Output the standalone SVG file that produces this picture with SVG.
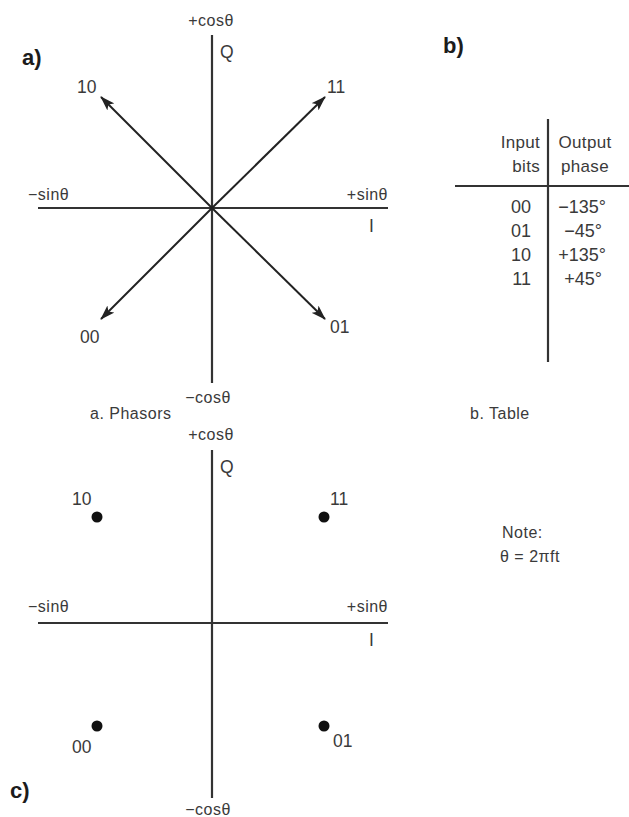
<svg xmlns="http://www.w3.org/2000/svg" width="629" height="817" viewBox="0 0 629 817">
<defs>
<style>
text{font-family:"Liberation Sans","DejaVu Sans",sans-serif;fill:#3a3a3a}
.s{font-size:16px;letter-spacing:0.5px}
.t{font-size:17px;letter-spacing:0.3px}
.m{font-size:17.5px}
.r{font-size:18px}
.h{font-size:22px;font-weight:bold;fill:#1c1c1c}
.ax{stroke:#333;stroke-width:2.2;fill:none}
.ar{stroke:#222;stroke-width:2;fill:none}
.mid{text-anchor:middle}
.end{text-anchor:end}
</style>
<marker id="ah" markerWidth="15" markerHeight="11" refX="14" refY="5.5" orient="auto" markerUnits="userSpaceOnUse">
<path d="M0,0.5 L15,5.5 L0,10.5 L3.5,5.5 z" fill="#222"/>
</marker>
</defs>
<rect width="629" height="817" fill="#fff"/>

<g id="phasors-axes">
<line class="ax" x1="212" y1="35" x2="212" y2="383"/>
<line class="ax" x1="38" y1="208" x2="388" y2="208"/>
<text class="s mid" x="211" y="26">+cosθ</text>
<text class="m" x="220" y="58">Q</text>
<text class="h" x="22" y="65">a)</text>
<text class="s" x="28" y="200">−sinθ</text>
<text class="s end" x="388" y="200">+sinθ</text>
<text class="m" x="369" y="232">I</text>
<text class="s mid" x="208" y="403">−cosθ</text>
<text class="s" x="90" y="419">a. Phasors</text>
</g>

<g id="connectors">
<line class="ar" x1="212" y1="208" x2="101" y2="97" marker-end="url(#ah)"/>
<line class="ar" x1="212" y1="208" x2="325" y2="97" marker-end="url(#ah)"/>
<line class="ar" x1="212" y1="208" x2="101" y2="319" marker-end="url(#ah)"/>
<line class="ar" x1="212" y1="208" x2="325" y2="319" marker-end="url(#ah)"/>
</g>

<g id="phasor-10"><text class="m" x="77" y="93">10</text></g>
<g id="phasor-11"><text class="m" x="327" y="93">11</text></g>
<g id="phasor-00"><text class="m" x="80" y="343">00</text></g>
<g id="phasor-01"><text class="m" x="330" y="333">01</text></g>

<g id="table">
<text class="h" x="443" y="53">b)</text>
<line class="ax" x1="548" y1="119" x2="548" y2="362"/>
<line class="ax" x1="455" y1="186" x2="629" y2="186" stroke-width="2.6"/>
<text class="t end" x="540" y="148">Input</text>
<text class="t end" x="540" y="172">bits</text>
<text class="t mid" x="585" y="148">Output</text>
<text class="t mid" x="585" y="172">phase</text>
<text class="r end" x="531" y="213">00</text>
<text class="r end" x="531" y="237">01</text>
<text class="r end" x="531" y="261">10</text>
<text class="r end" x="531" y="285">11</text>
<text class="r mid" x="582" y="213">−135°</text>
<text class="r mid" x="583" y="237">−45°</text>
<text class="r mid" x="582" y="261">+135°</text>
<text class="r mid" x="583" y="285">+45°</text>
<text class="s" x="470" y="419">b. Table</text>
</g>

<g id="note">
<text class="s" x="502" y="538">Note:</text>
<text class="s" x="500" y="562">θ = 2πft</text>
</g>

<g id="constellation-axes">
<line class="ax" x1="212" y1="450" x2="212" y2="798"/>
<line class="ax" x1="38" y1="623" x2="388" y2="623"/>
<text class="s mid" x="211" y="440">+cosθ</text>
<text class="m" x="220" y="473">Q</text>
<text class="s" x="28" y="612">−sinθ</text>
<text class="s end" x="388" y="612">+sinθ</text>
<text class="m" x="369" y="646">I</text>
<text class="s mid" x="208" y="815">−cosθ</text>
<text class="h" x="10" y="798">c)</text>
</g>

<g id="point-10"><circle cx="97" cy="517" r="5.5" fill="#111"/><text class="m" x="72" y="505">10</text></g>
<g id="point-11"><circle cx="324" cy="517" r="5.5" fill="#111"/><text class="m" x="330" y="505">11</text></g>
<g id="point-00"><circle cx="97" cy="726" r="5.5" fill="#111"/><text class="m" x="72" y="753">00</text></g>
<g id="point-01"><circle cx="324" cy="726" r="5.5" fill="#111"/><text class="m" x="333" y="747">01</text></g>
</svg>
